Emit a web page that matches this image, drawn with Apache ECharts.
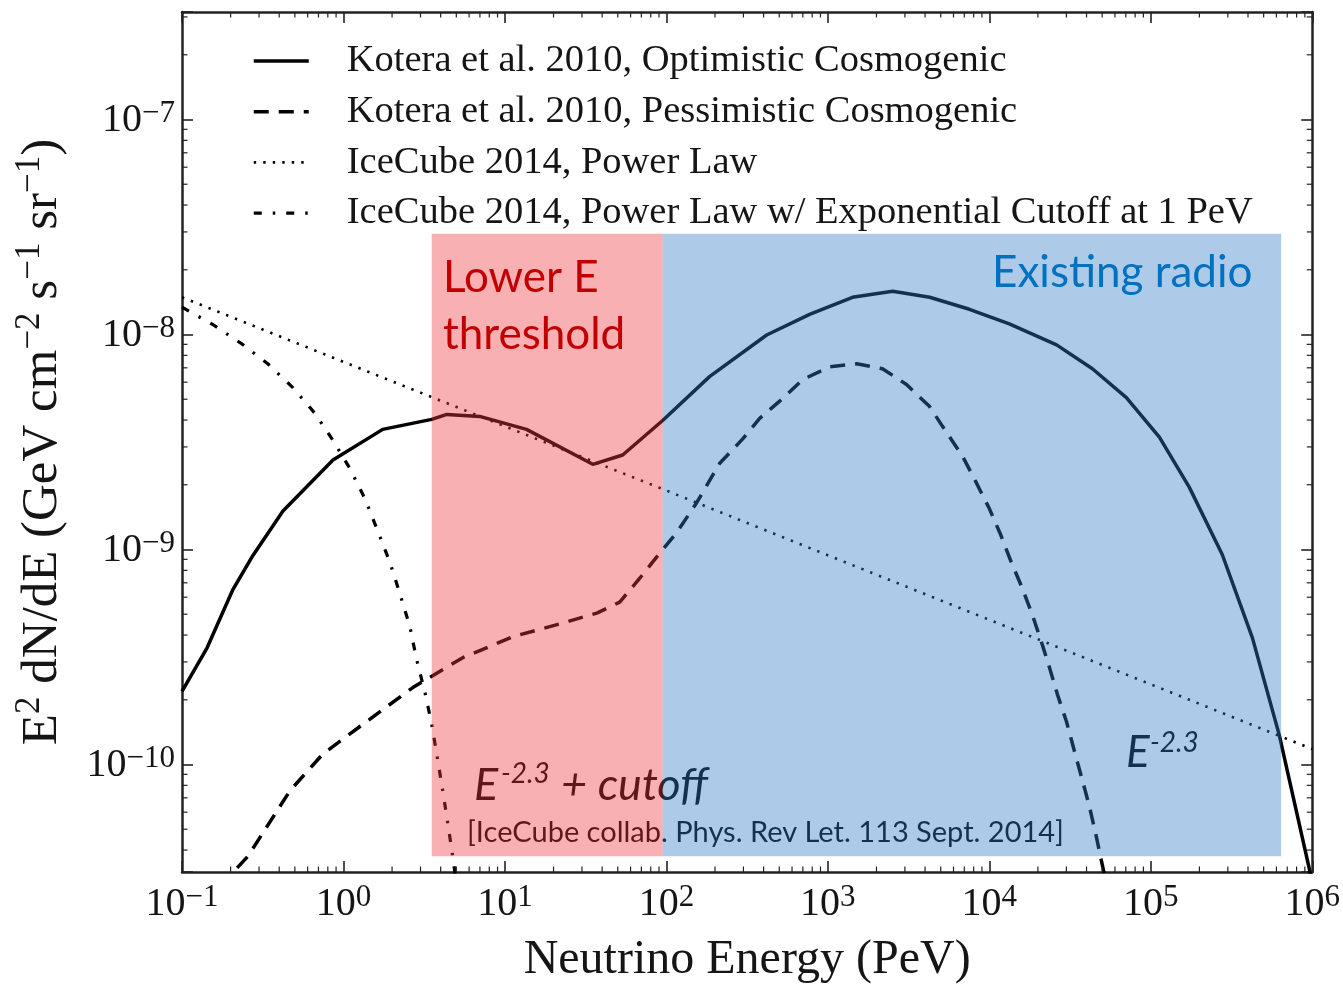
<!DOCTYPE html>
<html><head><meta charset="utf-8">
<script src="https://cdn.jsdelivr.net/npm/echarts@6/dist/echarts.min.js"></script>
<style>html,body{margin:0;padding:0;background:#fff}#c{width:1343px;height:989px}</style>
</head><body><div id="c"></div>
<script>
// ---- data (energy in PeV, flux E^2 dN/dE in GeV cm^-2 s^-1 sr^-1) ----
const seriesNames = [
  'Kotera et al. 2010, Optimistic Cosmogenic',
  'Kotera et al. 2010, Pessimistic Cosmogenic',
  'IceCube 2014, Power Law',
  'IceCube 2014, Power Law w/ Exponential Cutoff at 1 PeV'
];
const energyOpt = [0.1, 0.143, 0.207, 0.275, 0.422, 0.861, 1.75, 3.52, 4.37, 6.98, 13.6, 35.0, 53.6, 94.8, 185, 418, 771, 1420, 2520, 4270, 7530, 13300, 26100, 43500, 70600, 113000, 173000, 277000, 426000, 625000, 957000, 1000000];
const fluxOpt   = [2.19e-10, 3.49e-10, 6.53e-10, 9.38e-10, 1.51e-9, 2.61e-9, 3.62e-9, 4.03e-9, 4.25e-9, 4.16e-9, 3.62e-9, 2.49e-9, 2.75e-9, 3.98e-9, 6.37e-9, 9.95e-9, 1.24e-8, 1.49e-8, 1.59e-8, 1.49e-8, 1.31e-8, 1.12e-8, 8.95e-9, 6.93e-9, 5.09e-9, 3.33e-9, 1.95e-9, 9.48e-10, 3.88e-10, 1.37e-10, 3.3e-11, 2.8e-11];
const energyPess = [0.172, 0.256, 0.466, 0.746, 1.40, 2.69, 5.48, 11.2, 22.8, 37.1, 51.4, 68.4, 90.8, 116, 154, 214, 296, 378, 525, 698, 1030, 1510, 2180, 3070, 4270, 5130, 6820, 8320, 10000, 11600, 13700, 16000, 18500, 21000, 23600, 26400, 30000, 33700, 37800, 41700, 46000, 49400, 53800];
const fluxPess   = [2.72e-11, 3.74e-11, 7.55e-11, 1.12e-10, 1.59e-10, 2.28e-10, 3.14e-10, 3.93e-10, 4.55e-10, 5.06e-10, 5.69e-10, 7.35e-10, 9.59e-10, 1.20e-9, 1.65e-9, 2.52e-9, 3.26e-9, 4.07e-9, 5.04e-9, 6.17e-9, 7.08e-9, 7.31e-9, 6.93e-9, 5.85e-9, 4.62e-9, 3.74e-9, 2.72e-9, 2.04e-9, 1.55e-9, 1.20e-9, 8.71e-10, 6.61e-10, 4.95e-10, 3.72e-10, 2.82e-10, 2.12e-10, 1.59e-10, 1.15e-10, 8.39e-11, 6.37e-11, 4.62e-11, 3.58e-11, 2.66e-11];
const energyPL = [0.1, 1, 10, 100, 1000, 10000, 100000, 1000000];
const fluxPL   = [1.49e-8, 7.46e-9, 3.74e-9, 1.88e-9, 9.40e-10, 4.71e-10, 2.36e-10, 1.18e-10];
const energyCut = [0.1, 0.156, 0.235, 0.340, 0.486, 0.665, 0.861, 1.10, 1.36, 1.63, 1.94, 2.23, 2.58, 2.84, 3.19, 3.52, 3.78, 4.12, 4.43, 4.75, 5.04];
const fluxCut   = [1.34e-8, 1.11e-8, 9.04e-9, 7.31e-9, 5.66e-9, 4.30e-9, 3.22e-9, 2.37e-9, 1.72e-9, 1.22e-9, 8.71e-10, 6.27e-10, 4.37e-10, 3.07e-10, 2.18e-10, 1.54e-10, 1.12e-10, 7.55e-11, 5.31e-11, 3.74e-11, 2.66e-11];
// shaded bands: [E from, E to, flux low, flux high]
const bandNames = ['Lower E\nthreshold', 'Existing radio'];
const bandRanges = [[3.52, 94.8, 3.74e-11, 2.94e-8], [94.8, 642000, 3.74e-11, 2.94e-8]];
// axis ranges / ticks
const xRange = [0.1, 1e6];
const yRange = [3.1623e-11, 3.1623e-7];
const xDecades = [-1, 0, 1, 2, 3, 4, 5];
const yDecades = [-11, -10, -9, -8, -7];
const minorMultipliers = [2, 3, 4, 5, 6, 7, 8, 9];
const annotCutoff = ['E', '-2.3', '+ cutoff'];
const annotPL = ['E', '-2.3'];
const citation = '[IceCube collab. Phys. Rev Let. 113 Sept. 2014]';

// ---- build ----
const pairs = (xs, ys) => xs.map((x, i) => [x, ys[i]]);
const xMinor = [], yMinor = [];
xDecades.forEach(d => minorMultipliers.forEach(k => { const v = k * Math.pow(10, d); if (v > xRange[0] && v < xRange[1]) xMinor.push(v); }));
yDecades.forEach(d => minorMultipliers.forEach(k => { const v = k * Math.pow(10, d); if (v > yRange[0] && v < yRange[1]) yMinor.push(v); }));

const SERIF = 'Liberation Serif';
const SANS = 'Lato';
const INK = '#151515';
const labelRich = {
  b: {fontFamily: SERIF, fontSize: 40, color: INK, lineHeight: 42, verticalAlign: 'bottom'},
  s: {fontFamily: SERIF, fontSize: 31, color: INK, lineHeight: 22, verticalAlign: 'top'}
};
function powLabel(v) {
  const e = Math.log10(v), r = Math.round(e);
  if (Math.abs(e - r) > 0.01) return '';
  return '{b|10}{s|' + (r < 0 ? '\u2212' + (-r) : r) + '}';
}
const axisLineStyle = {color: '#222', width: 2.5};
const tickStyle = {inside: true, length: 11, lineStyle: {color: '#222', width: 1.6}};
function xAx(pos, main) {
  return {
    type: 'log', logBase: 10, min: xRange[0], max: xRange[1], position: pos, gridIndex: 0,
    axisLine: {show: true, lineStyle: axisLineStyle}, axisTick: tickStyle,
    splitLine: {show: false}, minorTick: {show: false},
    axisLabel: main ? {formatter: powLabel, rich: labelRich, margin: 10} : {show: false},
    name: main ? 'Neutrino Energy (PeV)' : '', nameLocation: 'middle', nameGap: 64,
    nameTextStyle: {fontFamily: SERIF, fontSize: 48, color: INK}
  };
}
function yAx(pos, main) {
  return {
    type: 'log', logBase: 10, min: yRange[0], max: yRange[1], position: pos, gridIndex: 0,
    axisLine: {show: true, lineStyle: axisLineStyle}, axisTick: tickStyle,
    splitLine: {show: false}, minorTick: {show: false},
    axisLabel: main ? {formatter: powLabel, rich: labelRich, margin: 7, align: 'right'} : {show: false},
    name: main ? '{m|E}{s|2}{m| dN/dE (GeV cm}{s|\u22122}{m| s}{s|\u22121}{m| sr}{s|\u22121}{m|)}' : '',
    nameLocation: 'middle', nameGap: 114,
    nameTextStyle: {rich: {
      m: {fontFamily: SERIF, fontSize: 51, color: INK, lineHeight: 56, verticalAlign: 'bottom'},
      s: {fontFamily: SERIF, fontSize: 35, color: INK, lineHeight: 30, verticalAlign: 'top'}
    }}
  };
}
const base = {type: 'line', symbol: 'none', showSymbol: false, silent: true, animation: false, z: 3, clip: true, color: '#000', itemStyle: {color: '#000'}};
const option = {
  animation: false,
  backgroundColor: '#fff',
  grid: {left: 182, right: 30, top: 12, bottom: 111, containLabel: false},
  xAxis: [xAx('bottom', true), xAx('top', false)],
  yAxis: [yAx('left', true), yAx('right', false)],
  legend: {
    orient: 'vertical', left: 252, top: 41, padding: 0, itemWidth: 55, itemHeight: 14, itemGap: 10.7,
    selectedMode: false,
    itemStyle: {opacity: 0},
    lineStyle: {width: 'inherit'},
    textStyle: {fontFamily: SERIF, fontSize: 38.5, color: INK, lineHeight: 40, padding: [0, 0, 0, 33]},
    data: seriesNames
  },
  series: [
    Object.assign({}, base, {name: seriesNames[0], data: pairs(energyOpt, fluxOpt), lineStyle: {color: '#000', width: 3.5, type: 'solid'}}),
    Object.assign({}, base, {name: seriesNames[1], data: pairs(energyPess, fluxPess), lineStyle: {color: '#000', width: 3.5, type: [15, 10]}}),
    Object.assign({}, base, {name: seriesNames[2], data: pairs(energyPL, fluxPL), lineStyle: {color: '#000', width: 2.6, type: [2.4, 7.1]}}),
    Object.assign({}, base, {name: seriesNames[3], data: pairs(energyCut, fluxCut), lineStyle: {color: '#000', width: 3.2, type: [8, 11, 2.5, 11]}}),
    {
      type: 'custom', name: 'minor ticks', silent: true, z: 4, animation: false,
      data: [[1, 1e-9]],
      renderItem: function (params, api) {
        const cs = params.coordSys, L = 5.5, ch = [];
        const st = {stroke: '#222', lineWidth: 1.2};
        xMinor.forEach(v => {
          const p = api.coord([v, 1e-9])[0];
          ch.push({type: 'line', shape: {x1: p, y1: cs.y + cs.height, x2: p, y2: cs.y + cs.height - L}, style: st});
          ch.push({type: 'line', shape: {x1: p, y1: cs.y, x2: p, y2: cs.y + L}, style: st});
        });
        yMinor.forEach(v => {
          const p = api.coord([1, v])[1];
          ch.push({type: 'line', shape: {x1: cs.x, y1: p, x2: cs.x + L, y2: p}, style: st});
          ch.push({type: 'line', shape: {x1: cs.x + cs.width, y1: p, x2: cs.x + cs.width - L, y2: p}, style: st});
        });
        return {type: 'group', children: ch};
      }
    },
    {
      type: 'custom', name: 'bands', silent: true, z: 10, animation: false,
      data: bandRanges,
      encode: {x: [0, 1], y: [2, 3]},
      renderItem: function (params, api) {
        const p0 = api.coord([api.value(0), api.value(2)]);
        const p1 = api.coord([api.value(1), api.value(3)]);
        const fill = params.dataIndex === 0 ? 'rgba(240,58,65,0.4)' : 'rgba(50,125,198,0.4)';
        return {type: 'rect', shape: {x: p0[0], y: p1[1], width: p1[0] - p0[0], height: p0[1] - p1[1]}, style: {fill: fill}};
      }
    }
  ],
  graphic: [
    {type: 'text', z: 100, left: 443, top: 249, style: {text: bandNames[0], font: '44px ' + SANS, fill: '#C00000', lineHeight: 57}},
    {type: 'text', z: 100, left: 992, top: 251, style: {text: bandNames[1], font: '44px ' + SANS, fill: '#0070C0'}},
    {type: 'text', z: 5, left: 474, top: 763, style: {text: annotCutoff[0], font: 'italic 45px ' + SANS, fill: '#000'}},
    {type: 'text', z: 5, left: 501, top: 760, style: {text: annotCutoff[1], font: 'italic 28px ' + SANS, fill: '#000'}},
    {type: 'text', z: 5, left: 561, top: 763, style: {text: annotCutoff[2], font: 'italic 45px ' + SANS, fill: '#000'}},
    {type: 'text', z: 5, left: 467, top: 818, style: {text: citation, font: '29px ' + SANS, fill: '#000'}},
    {type: 'text', z: 5, left: 1126, top: 731, style: {text: annotPL[0], font: 'italic 44px ' + SANS, fill: '#000'}},
    {type: 'text', z: 5, left: 1150, top: 729, style: {text: annotPL[1], font: 'italic 28px ' + SANS, fill: '#000'}}
  ]
};
const chart = echarts.init(document.getElementById('c'), null, {renderer: 'canvas'});
chart.setOption(option);
</script>
</body></html>
